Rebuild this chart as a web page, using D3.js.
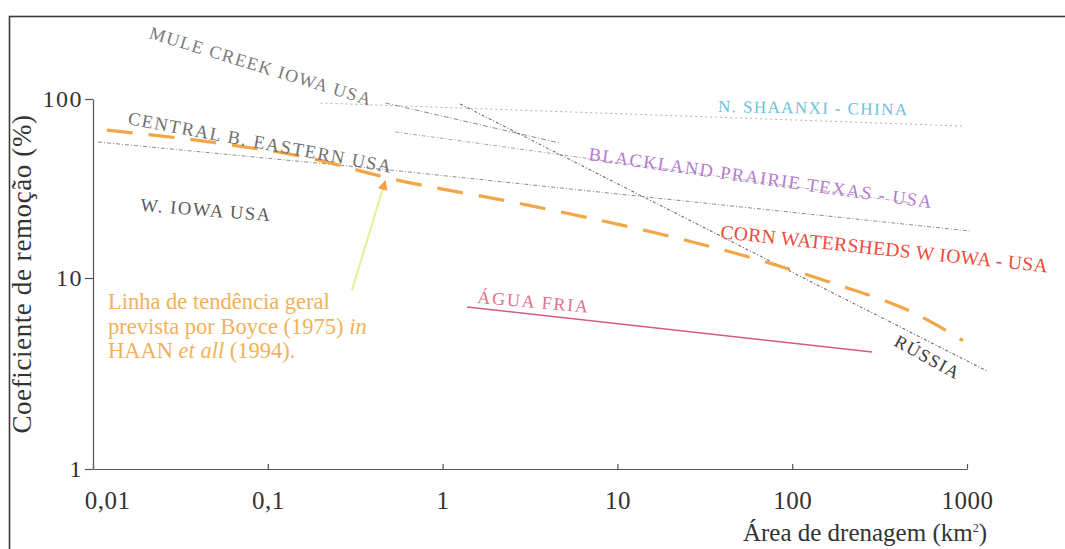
<!DOCTYPE html>
<html>
<head>
<meta charset="utf-8">
<script src="https://cdn.jsdelivr.net/npm/d3@7"></script>
<style>
  body { margin: 0; background: #fff; }
  svg text { font-family: "Liberation Serif", "DejaVu Serif", serif; }
</style>
</head>
<body>
<svg id="chart" width="1065" height="549"></svg>
<script>
// Axis ticks
const xTicks = [0.01, 0.1, 1, 10, 100, 1000];
const xTickLabels = ["0,01", "0,1", "1", "10", "100", "1000"];
const yTicks = [1, 10, 100];
const yTickLabels = ["1", "10", "100"];

// Curves: [drainage area km², removal coefficient %]
const boyceTrend = [[0.012, 67], [0.05, 57], [0.17, 47], [0.5, 36], [2.8, 26], [16, 18], [52, 13.4], [170, 9.4], [490, 6.6], [950, 4.7]];
const nShaanxi = [[0.2, 95], [950, 70.6]];
const muleCreek = [[0.47, 95], [4.7, 56.7]];
const russia = [[1.26, 93.8], [1300, 3.26]];
const blackland = [[0.535, 65.5], [491, 26.2]];
const centralEastern = [[0.0107, 57.5], [0.5, 40.1]];
const cornWatersheds = [[0.5, 40.1], [1040, 18.3]];
const aguaFria = [[1.38, 7.05], [286, 4.1]];

const svg = d3.select("#chart");

// Frame around the figure
svg.append("rect")
  .attr("x", 9.5).attr("y", 16.5)
  .attr("width", 1100).attr("height", 600)
  .attr("fill", "none").attr("stroke", "#3a3a3a").attr("stroke-width", 1.6);

const x = d3.scaleLog().domain([0.01, 1000]).range([93, 967]);
const y = d3.scaleLog().domain([1, 10, 100]).range([469, 278, 99]);

// Axes
const xAxis = d3.axisBottom(x)
  .tickValues(xTicks)
  .tickFormat((d, i) => xTickLabels[i])
  .tickSizeInner(-5).tickSizeOuter(0).tickPadding(22);
const gx = svg.append("g").attr("transform", `translate(0,${y(1)})`).call(xAxis);
gx.select(".domain").attr("stroke", "#555").attr("stroke-width", 1.2);
gx.selectAll(".tick line").attr("stroke", "#555").attr("stroke-width", 1.2);
gx.selectAll(".tick text")
  .attr("fill", "#333").attr("font-size", 25).attr("letter-spacing", 0.5)
  .attr("dx", (d, i) => i === 0 ? 14 : 0);

const yAxis = d3.axisLeft(y)
  .tickValues(yTicks)
  .tickFormat((d, i) => yTickLabels[i])
  .tickSizeInner(8).tickSizeOuter(0).tickPadding(2);
const gy = svg.append("g").attr("transform", `translate(${x(0.01)},0)`).call(yAxis);
gy.select(".domain").attr("stroke", "#555").attr("stroke-width", 1.2);
gy.selectAll(".tick line").attr("stroke", "#555").attr("stroke-width", 1.2);
gy.selectAll(".tick text").attr("fill", "#333").attr("font-size", 24).attr("letter-spacing", 1.5);

// Axis titles
svg.append("text")
  .attr("x", 987).attr("y", 541)
  .attr("text-anchor", "end")
  .attr("font-size", 25).attr("fill", "#333")
  .html('Área de drenagem (km<tspan dy="-9" font-size="12">2</tspan><tspan dy="9">)</tspan>');

svg.append("text")
  .attr("transform", "translate(31,274) rotate(-90)")
  .attr("text-anchor", "middle")
  .attr("font-size", 27).attr("letter-spacing", 0.6).attr("fill", "#333")
  .text("Coeficiente de remoção (%)");

// Regional curves
const line = d3.line().x(d => x(d[0])).y(d => y(d[1]));
const curves = [
  { data: nShaanxi, color: "#aab4bc", dash: "2,3", width: 1 },
  { data: muleCreek, color: "#8c8c8c", dash: "5,2,1,2", width: 1 },
  { data: blackland, color: "#a6a6a6", dash: "4,2,1,2", width: 1 },
  { data: centralEastern, color: "#8c8c8c", dash: "4,2,1,2", width: 1 },
  { data: cornWatersheds, color: "#8c8c8c", dash: "4,2,1,2", width: 1 },
  { data: russia, color: "#6e6e6e", dash: "3,2,1,2", width: 1.1 },
  { data: aguaFria, color: "#d35c80", dash: null, width: 1.4 }
];
svg.append("g").selectAll("path").data(curves).join("path")
  .attr("d", c => line(c.data))
  .attr("fill", "none")
  .attr("stroke", c => c.color)
  .attr("stroke-width", c => c.width)
  .attr("stroke-dasharray", c => c.dash);

// Boyce general trend
svg.append("path")
  .attr("d", d3.line().x(d => x(d[0])).y(d => y(d[1])).curve(d3.curveMonotoneX)(boyceTrend))
  .attr("fill", "none")
  .attr("stroke", "#f4a545")
  .attr("stroke-width", 3.2)
  .attr("stroke-dasharray", "26,16");

// Curve labels, anchored in data space
const curveLabels = [
  { text: "MULE CREEK IOWA USA", at: [0.0207, 219], angle: 17, size: 18, spacing: 1.4, color: "#7a7a7a" },
  { text: "CENTRAL B. EASTERN USA", at: [0.0157, 72.4], angle: 10.5, size: 18.5, spacing: 1.5, color: "#707070" },
  { text: "W. IOWA USA", at: [0.0186, 23.7], angle: 4.5, size: 18.5, spacing: 1.6, color: "#5a5a5a" },
  { text: "N. SHAANXI - CHINA", at: [37.6, 84.6], angle: 1, size: 17, spacing: 1.4, color: "#6cc3d6" },
  { text: "BLACKLAND PRAIRIE TEXAS - USA", at: [6.79, 45.6], angle: 8, size: 18.5, spacing: 1.4, color: "#b57ad0" },
  { text: "CORN WATERSHEDS W IOWA - USA", at: [38.6, 16.7], angle: 6, size: 19.5, spacing: 0.4, color: "#ee4a3a" },
  { text: "ÁGUA FRIA", at: [1.574, 7.4], angle: 5, size: 18, spacing: 1.8, color: "#e0708f" },
  { text: "RÚSSIA", at: [377, 4.46], angle: 29, size: 18, spacing: 1.4, color: "#3a3a3a" }
];
svg.append("g").selectAll("text").data(curveLabels).join("text")
  .attr("transform", d => `translate(${x(d.at[0])},${y(d.at[1])}) rotate(${d.angle})`)
  .attr("font-size", d => d.size)
  .attr("letter-spacing", d => d.spacing)
  .attr("fill", d => d.color)
  .text(d => d.text);

// Trend annotation with arrow
const noteAt = [0.01218, 6.88];
const note = svg.append("text")
  .attr("x", x(noteAt[0])).attr("y", y(noteAt[1]))
  .attr("font-size", 22.5).attr("fill", "#f2b15a");
note.append("tspan").text("Linha de tendência geral");
note.append("tspan").attr("x", x(noteAt[0])).attr("dy", 24.5).text("prevista por Boyce (1975) ");
note.append("tspan").attr("font-style", "italic").text("in");
note.append("tspan").attr("x", x(noteAt[0])).attr("dy", 24.5).text("HAAN ");
note.append("tspan").attr("font-style", "italic").text("et all");
note.append("tspan").text(" (1994).");

const arrowFrom = [0.303, 8.65];
const arrowTo = [0.468, 34.4];
svg.append("defs").append("marker")
  .attr("id", "tip").attr("viewBox", "0 0 10 10")
  .attr("refX", 8).attr("refY", 5)
  .attr("markerWidth", 5).attr("markerHeight", 5)
  .attr("orient", "auto")
  .append("path").attr("d", "M0,0 L10,5 L0,10 Z").attr("fill", "#f2a04a");
svg.append("line")
  .attr("x1", x(arrowFrom[0])).attr("y1", y(arrowFrom[1]))
  .attr("x2", x(arrowTo[0])).attr("y2", y(arrowTo[1]))
  .attr("stroke", "#e6ef9a").attr("stroke-width", 2)
  .attr("marker-end", "url(#tip)");
</script>
</body>
</html>
